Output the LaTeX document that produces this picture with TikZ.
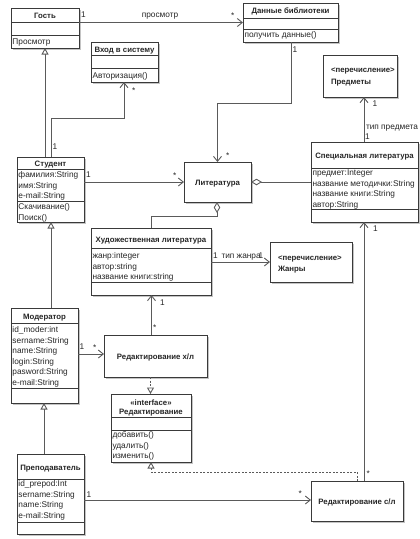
\documentclass[tikz,border=0pt]{standalone}
\usepackage{fontspec}
\setmainfont{Liberation Sans}
\usetikzlibrary{arrows.meta,calc}
\definecolor{boxc}{HTML}{3A3A3A}
\definecolor{linec}{HTML}{5A5A5A}
\definecolor{shc}{HTML}{C4C4C4}
\tikzset{
 umlbox/.style={draw=boxc, line width=0.9pt, fill=white, inner sep=0pt, outer sep=0pt, rectangle},
 sepline/.style={draw=boxc, line width=0.8pt},
 txt/.style={font=\fontsize{8.3}{10}\selectfont, inner sep=0pt, outer sep=0pt, anchor=base west, text=black!85},
 ttl/.style={txt, font=\fontsize{7.8}{10}\selectfont\bfseries, anchor=base},
 conn/.style={draw=linec, line width=0.9pt},
 assoc/.style={conn, -{Straight Barb[length=5pt,width=8pt]}},
 gen/.style={conn, -{Triangle[open,length=6.5pt,width=7pt,fill=white]}},
 agg/.style={conn, {Diamond[open,length=11pt,width=6.5pt,fill=white]}-},
 real/.style={conn, dash pattern=on 2pt off 1.5pt, -{Triangle[open,length=6.5pt,width=7pt,fill=white]}},
}
\newcommand\ubox[5]{%
 \fill[shc] (#2+2,#3+2) rectangle (#4+2,#5+2);
 \pgfmathsetmacro\bw{#4-#2}\pgfmathsetmacro\bh{#5-#3}%
 \node[umlbox, minimum width=\bw pt, minimum height=\bh pt, anchor=north west] (#1) at (#2,#3) {};}
\newcommand\usep[2]{\draw[sepline] (#1.west |- 0,#2) -- (#1.east |- 0,#2);}
\newcommand\ulines[4]{\foreach \lt [count=\li] in {#4} {\node[txt] (#1-\li) at (#2,{#3+(\li-1)*10.5}) {\lt};}}
\begin{document}
\begin{tikzpicture}[x=1pt,y=-1pt]
\useasboundingbox (0,0) rectangle (420,539);
% boxes
\ubox{guest}{11}{8}{79}{48}\usep{guest}{22}\usep{guest}{35}
\node[ttl] (guest-t) at (45,18.5) {Гость};
\ulines{guest-o}{12.5}{44.5}{Просмотр}

\ubox{login}{91}{42}{158}{82}\usep{login}{55}\usep{login}{68}
\node[ttl] (login-t) at (124.5,52.5) {Вход в систему};
\ulines{login-o}{92.5}{78.5}{Авторизация()}

\ubox{data}{243}{3}{338}{42}\usep{data}{18}\usep{data}{29}
\node[ttl] (data-t) at (290.5,13.5) {Данные библиотеки};
\ulines{data-o}{244.5}{37.5}{получить данные()}

\ubox{subj}{323}{55}{397}{97}
\node[ttl, anchor=base west] (subj-s) at (331,72) {<перечисление>};
\node[ttl, anchor=base west] (subj-t) at (331,84) {Предметы};

\ubox{stud}{17}{157}{84}{222}\usep{stud}{169}\usep{stud}{201}
\node[ttl] (stud-t) at (50.5,166) {Студент};
\ulines{stud-a}{18.5}{177.5}{фамилия:String,имя:String,e-mail:String}
\ulines{stud-o}{18.5}{209.5}{Скачивание(),Поиск()}

\ubox{lit}{184}{162}{251}{202}
\node[ttl] (lit-t) at (217.5,185.5) {Литература};

\ubox{spec}{311}{142}{418}{222}\usep{spec}{168}\usep{spec}{209}
\node[ttl] (spec-t) at (364.5,158.5) {Специальная литература};
\ulines{spec-a}{312.5}{175.5}{предмет:Integer,название методички:String,название книги:String,автор:String}

\ubox{hud}{91}{228}{211}{295}\usep{hud}{248}\usep{hud}{282}
\node[ttl] (hud-t) at (151,242.5) {Художественная литература};
\ulines{hud-a}{92.5}{258.5}{жанр:integer,автор:string,название книги:string}

\ubox{genre}{270}{242}{352}{282}
\node[ttl, anchor=base west] (genre-s) at (278,260) {<перечисление>};
\node[ttl, anchor=base west] (genre-t) at (278,271) {Жанры};

\ubox{mod}{11}{308}{78}{403}\usep{mod}{323}\usep{mod}{388}
\node[ttl] (mod-t) at (44.5,319) {Модератор};
\ulines{mod-a}{12.5}{332.5}{id\_moder:int,sername:String,name:String,login:String,pasword:String,e-mail:String}

\ubox{edh}{104}{335}{207}{377}
\node[ttl] (edh-t) at (155.5,359) {Редактирование х/л};

\ubox{iface}{111}{394}{191}{462}\usep{iface}{417}\usep{iface}{430}
\node[ttl] (iface-s) at (151,405) {«interface»};
\node[ttl] (iface-t) at (151,414.5) {Редактирование};
\ulines{iface-o}{112.5}{437.5}{добавить(),удалить(),изменить()}

\ubox{teach}{17}{454}{84}{534}\usep{teach}{479}\usep{teach}{522}
\node[ttl] (teach-t) at (50.5,470.5) {Преподаватель};
\ulines{teach-a}{18.5}{486.5}{id\_prepod:Int,sername:String,name:String,e-mail:String}

\ubox{eds}{311}{481}{403}{521}
\node[ttl] (eds-t) at (357,504) {Редактирование с/л};

% connectors
\draw[assoc] (guest.east |- 0,22.5) -- (data.west |- 0,22.5);
\draw[gen] (stud.north -| 45,0) -- (guest.south -| 45,0);
\draw[assoc] (stud.north -| 51,0) -- ++(0,-39) -| (login.south -| 124,0);
\draw[assoc] (stud.east |- 0,182) -- (lit.west |- 0,182);
\draw[assoc] (data.south -| 291,0) -- ++(0,61) -| (lit.north -| 217.5,0);
\draw[agg] (lit.east |- 0,182) -- (spec.west |- 0,182);
\draw[agg] (lit.south -| 217,0) -- ++(0,14) -| (hud.north -| 151,0);
\draw[assoc] (hud.east |- 0,262) -- (genre.west |- 0,262);
\draw[assoc] (spec.north -| 364,0) -- (subj.south -| 364,0);
\draw[assoc] (edh.north -| 151.5,0) -- (hud.south -| 151.5,0);
\draw[assoc] (mod.east |- 0,354) -- (edh.west |- 0,354);
\draw[real] (edh.south -| 150.5,0) -- (iface.north -| 150.5,0);
\draw[gen] (mod.north -| 51,0) -- (stud.south -| 51,0);
\draw[gen] (teach.north -| 44,0) -- (mod.south -| 44,0);
\draw[assoc] (teach.east |- 0,500) -- (eds.west |- 0,500);
\draw[assoc] (eds.north -| 364,0) -- (spec.south -| 364,0);
\draw[real] (eds.north -| 357,0) -- ++(0,-9) -| (iface.south -| 151,0);

% labels
\node[txt] (l1) at (81,17) {1};
\node[txt, anchor=base] (l2) at (160,17) {просмотр};
\node[txt] (l3) at (231,18) {*};
\node[txt] (l4) at (132,93) {*};
\node[txt] (l5) at (52.5,149.5) {1};
\node[txt] (l6) at (86,177) {1};
\node[txt] (l7) at (173,178) {*};
\node[txt] (l8) at (292.5,52.5) {1};
\node[txt] (l9) at (226,158) {*};
\node[txt] (l10) at (213,258.5) {1};
\node[txt] (l11) at (221.5,258.5) {тип жанра};
\node[txt] (l12) at (258.5,258.5) {1};
\node[txt] (l13) at (372.5,106.5) {1};
\node[txt] (l14) at (366,129.5) {тип предмета};
\node[txt] (l15) at (365,139) {1};
\node[txt] (l16) at (160,305.5) {1};
\node[txt] (l17) at (153,330) {*};
\node[txt] (l18) at (79.5,349.5) {1};
\node[txt] (l19) at (93,350.5) {*};
\node[txt] (l20) at (86.5,497) {1};
\node[txt] (l21) at (298.5,496.5) {*};
\node[txt] (l22) at (373,231.5) {1};
\node[txt] (l23) at (366.5,476.5) {*};
\end{tikzpicture}
\end{document}
